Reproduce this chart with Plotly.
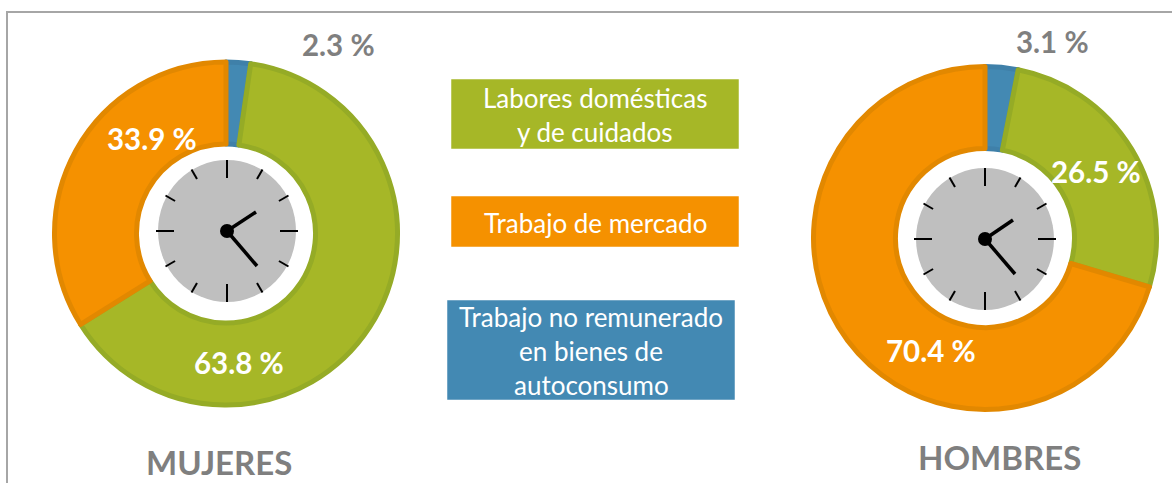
import math
import plotly.graph_objects as go

W, H = 1172, 483
categories = ["Trabajo no remunerado en bienes de autoconsumo", "Labores domésticas y de cuidados", "Trabajo de mercado"]
mujeres = [2.3, 63.8, 33.9]
hombres = [3.1, 26.5, 70.4]
fill_colors = ["#4389B3", "#A6B727", "#F59100"]
line_colors = ["#3F80A9", "#95AB26", "#E28800"]
FONT = "Lato"
GRAY = "#7F7F7F"

OUTER = 171.5
HOLE = 0.522


def domain(cx, cy, r=OUTER):
    return dict(x=[(cx - r) / W, (cx + r) / W], y=[1 - (cy + r) / H, 1 - (cy - r) / H])


fig = go.Figure()
for name, vals, c in [("MUJERES", mujeres, (226, 233.5)), ("HOMBRES", hombres, (985, 238))]:
    fig.add_trace(go.Pie(
        labels=categories, values=vals, name=name, sort=False, direction="clockwise", rotation=0,
        hole=HOLE, domain=domain(*c), textinfo="none", showlegend=False,
        marker=dict(colors=fill_colors, line=dict(color=line_colors, width=5)),
    ))

shapes = []


def line(x0, y0, x1, y1, color, width):
    shapes.append(dict(type="line", xref="x", yref="y", x0=x0, y0=y0, x1=x1, y1=y1,
                       line=dict(color=color, width=width), layer="above"))


def rect(x0, y0, x1, y1, color):
    shapes.append(dict(type="rect", xref="x", yref="y", x0=x0, y0=y0, x1=x1, y1=y1,
                       fillcolor=color, line=dict(width=1, color="rgba(255,255,255,0.5)"), layer="above"))


def clock(cx, cy, h1, h2):
    shapes.append(dict(type="circle", xref="x", yref="y", x0=cx - 69, x1=cx + 69, y0=cy - 71, y1=cy + 71,
                       fillcolor="#BFBFBF", line=dict(width=0), layer="above"))
    for i in range(12):
        a = math.radians(i * 30)
        inner = 53 if i % 3 == 0 else 60
        line(cx + inner * math.sin(a), cy - inner * math.cos(a),
             cx + 71 * math.sin(a), cy - 71 * math.cos(a), "#000000", 2)
    line(cx, cy, h1[0], h1[1], "#000000", 3.5)
    line(cx, cy, h2[0], h2[1], "#000000", 3.5)
    shapes.append(dict(type="circle", xref="x", yref="y", x0=cx - 7, x1=cx + 7, y0=cy - 7, y1=cy + 7,
                       fillcolor="#000000", line=dict(width=0), layer="above"))


clock(227, 231, (256, 212), (257, 266))
clock(985, 239, (1013, 220), (1015, 274))

# chart frame
line(7, 12, 7, 483, "#A6A6A6", 2)
line(6, 12, 1172, 12, "#A6A6A6", 2)

# legend boxes
rect(451, 79, 739, 149, fill_colors[1])
rect(451, 196, 739, 247, fill_colors[2])
rect(447, 300, 735, 400, fill_colors[0])

annotations = []


def text(x, y, s, size, color, bold=True):
    annotations.append(dict(xref="x", yref="y", x=x, y=y, text=f"<b>{s}</b>" if bold else s, showarrow=False,
                            xanchor="center", yanchor="middle", align="center",
                            font=dict(family=FONT, size=size, color=color)))


text(338, 44, f"{mujeres[0]} %", 29.5, GRAY)
text(152, 138, f"{mujeres[2]} %", 29.5, "white")
text(239, 362, f"{mujeres[1]} %", 29.5, "white")
text(1052, 41, f"{hombres[0]} %", 29.5, GRAY)
text(1096, 171, f"{hombres[1]} %", 29.5, "white")
text(931, 350, f"{hombres[2]} %", 29.5, "white")
text(219, 462, "MUJERES", 33, GRAY)
text(999, 457, "HOMBRES", 33, GRAY)

LG = 26
text(595, 98, "Labores domésticas", LG, "white", False)
text(595, 132, "y de cuidados", LG, "white", False)
text(595, 223, "Trabajo de mercado", LG, "white", False)
text(591, 317, "Trabajo no remunerado", LG, "white", False)
text(591, 351, "en bienes de", LG, "white", False)
text(591, 385, "autoconsumo", LG, "white", False)

fig.update_layout(
    width=W, height=H, margin=dict(l=0, r=0, t=0, b=0),
    paper_bgcolor="white", plot_bgcolor="rgba(0,0,0,0)", showlegend=False,
    xaxis=dict(range=[0, W], visible=False, fixedrange=True),
    yaxis=dict(range=[H, 0], visible=False, fixedrange=True),
    shapes=shapes, annotations=annotations,
)
fig.write_html("out.html", config={"displayModeBar": False},
               post_script="document.body.style.margin='0';document.body.style.overflow='hidden';")
